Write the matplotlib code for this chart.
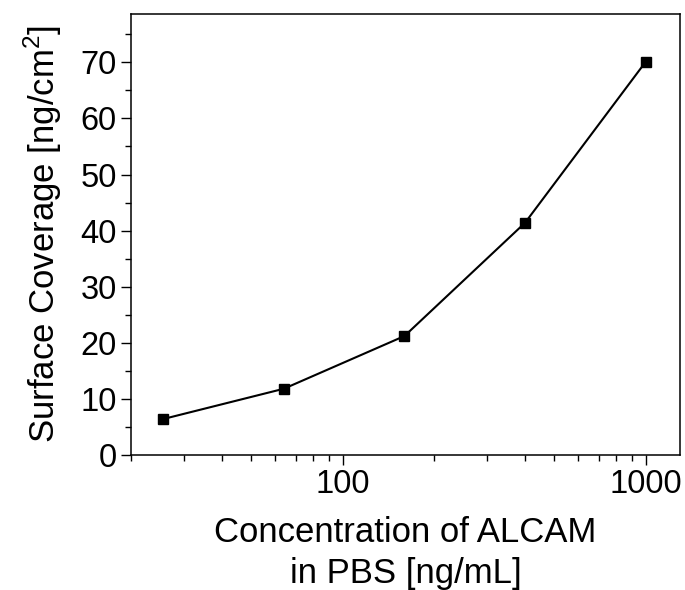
"""Surface coverage vs ALCAM concentration (log x)."""

import matplotlib
matplotlib.use('Agg')
import matplotlib.pyplot as plt
from matplotlib.ticker import LogLocator, MultipleLocator, FixedLocator, NullFormatter

# Data
concentration = [25.6, 64, 160, 400, 1000]  # ng/mL
coverage = [6.4, 11.8, 21.2, 41.4, 70.1]    # ng/cm^2

x_ticks = [100, 1000]
x_ticklabels = ['100', '1000']

plt.rcParams['font.family'] = ['Liberation Sans', 'DejaVu Sans']
plt.rcParams['mathtext.fontset'] = 'custom'
plt.rcParams['mathtext.rm'] = 'Liberation Sans'

fig = plt.figure(figsize=(6.85, 5.9), dpi=100)
ax = fig.add_axes([0.191, 0.229, 0.802, 0.748])

ax.plot(concentration, coverage, color='black', linewidth=1.5,
        marker='s', markersize=6.5, markerfacecolor='black', markeredgecolor='black')

ax.set_xscale('log')
ax.set_xlim(20, 1300)
ax.set_ylim(0, 78.7)

ax.xaxis.set_major_locator(FixedLocator(x_ticks))
ax.set_xticklabels(x_ticklabels)
ax.xaxis.set_minor_locator(LogLocator(base=10, subs=range(2, 10)))
ax.xaxis.set_minor_formatter(NullFormatter())

ax.yaxis.set_major_locator(MultipleLocator(10))
ax.yaxis.set_minor_locator(MultipleLocator(5))

ax.tick_params(which='major', direction='out', length=7, width=1,
               labelsize=23.5, top=False, right=False, pad=3)
ax.tick_params(which='minor', direction='out', length=4, width=1,
               top=False, right=False)

for s in ax.spines.values():
    s.set_linewidth(1.1)

ax.set_xlabel('Concentration of ALCAM\nin PBS [ng/mL]', fontsize=25,
              linespacing=1.3, labelpad=12)
ax.set_ylabel('Surface Coverage [ng/cm$^2$]', fontsize=25, labelpad=12)

fig.savefig('out.png', dpi=100)
